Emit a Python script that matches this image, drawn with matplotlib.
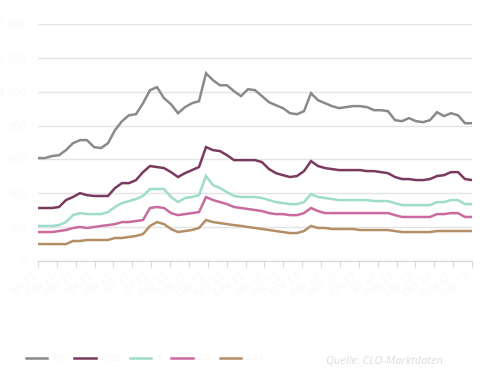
import numpy as np
import matplotlib.pyplot as plt

# CLO spreads by rating (bps)
months = ["Jan 11", "Feb 11", "Mär 11", "Apr 11", "Mai 11", "Jun 11", "Jul 11", "Aug 11",
          "Sep 11", "Okt 11", "Nov 11", "Dez 11", "Jan 12", "Feb 12", "Mär 12", "Apr 12",
          "Mai 12", "Jun 12", "Jul 12", "Aug 12", "Sep 12", "Okt 12", "Nov 12", "Dez 12"]

bb = [608, 608, 620, 625, 655, 696, 714, 714, 673, 667, 696, 773, 826, 861, 867, 932,
      1009, 1027, 962, 926, 873, 909, 932, 944, 1109, 1068, 1038, 1038, 1003, 974, 1015,
      1009, 974, 938, 920, 903, 873, 867, 885, 991, 950, 932, 915, 903, 909, 915, 915,
      909, 891, 891, 885, 832, 826, 844, 826, 820, 832, 879, 856, 873, 861, 814, 814]
bbb = [313, 313, 313, 319, 360, 378, 401, 389, 384, 384, 384, 431, 460, 460, 478, 525,
       561, 555, 549, 525, 496, 519, 537, 555, 673, 655, 649, 625, 596, 596, 596, 596,
       584, 543, 519, 507, 496, 502, 531, 590, 561, 549, 543, 537, 537, 537, 537, 531,
       531, 525, 519, 496, 484, 484, 478, 478, 484, 502, 507, 525, 525, 484, 478]
a = [207, 207, 207, 212, 230, 271, 283, 277, 277, 277, 289, 319, 342, 354, 366, 384,
     425, 425, 425, 378, 348, 372, 378, 389, 502, 448, 431, 407, 384, 378, 378, 378,
     372, 360, 348, 342, 336, 336, 348, 395, 378, 372, 366, 360, 360, 360, 360, 360,
     354, 354, 354, 342, 330, 330, 330, 330, 330, 348, 348, 360, 360, 336, 336]
aa = [171, 171, 171, 177, 183, 195, 201, 195, 201, 207, 212, 218, 230, 230, 236, 242,
      313, 319, 313, 283, 271, 277, 283, 289, 378, 360, 348, 336, 319, 313, 307, 301,
      295, 283, 277, 277, 271, 271, 283, 313, 295, 283, 283, 283, 283, 283, 283, 283,
      283, 283, 283, 271, 260, 260, 260, 260, 260, 277, 277, 283, 283, 260, 260]
aaa = [100, 100, 100, 100, 100, 118, 118, 124, 124, 124, 124, 136, 136, 142, 148, 159,
       207, 230, 218, 189, 171, 177, 183, 195, 242, 230, 224, 218, 212, 207, 201, 195,
       189, 183, 177, 171, 165, 165, 177, 207, 195, 195, 189, 189, 189, 189, 183, 183,
       183, 183, 183, 177, 171, 171, 171, 171, 171, 177, 177, 177, 177, 177, 177]

labels = ["BB", "BBB", "A", "AA", "AAA"]
colors = ["#8a8a8a", "#7a3a5f", "#9edccb", "#c96b9f", "#b38f66"]
faint = "#f9f9f9"

fig = plt.figure(figsize=(4.88, 3.78), dpi=100)
ax = fig.add_axes([38 / 488, 1 - 261 / 378, 434 / 488, 237 / 378])

x = np.arange(len(bb))
for s, lab, c in zip([bb, bbb, a, aa, aaa], labels, colors):
    ax.plot(x, s, color=c, lw=1.8, label=lab, solid_joinstyle="miter")

ax.set_xlim(0, len(bb) - 1)
ax.set_ylim(0, 1400)
ax.set_yticks(np.arange(0, 1401, 200))
ax.set_yticklabels(["0", "200", "400", "600", "800", "1.000", "1.200", "1.400"])
ax.set_xticks(np.linspace(0, len(bb) - 1, len(months)))
ax.set_xticklabels(months, rotation=35, ha="right")

ax.grid(axis="y", color="#e4e4e4", lw=1)
ax.set_axisbelow(True)
for side in ["top", "right", "left"]:
    ax.spines[side].set_visible(False)
ax.spines["bottom"].set_color("#d8d8d8")
ax.tick_params(axis="y", length=0, labelcolor=faint, labelsize=7, pad=8)
ax.tick_params(axis="x", length=4, color="#d8d8d8", labelcolor=faint, labelsize=7)

fig.legend(loc="lower left", bbox_to_anchor=(0.035, 0.015), ncol=5, frameon=False,
           fontsize=7, labelcolor=faint, handlelength=2.2, handletextpad=0.5,
           columnspacing=0.9)

fig.text(443 / 488, 1 - 361 / 378, "Quelle: CLO-Marktdaten", ha="right", va="center",
         fontsize=8, style="italic", color="#dddddd", family="Open Sans")

fig.savefig("out.png", dpi=100, facecolor="white")
